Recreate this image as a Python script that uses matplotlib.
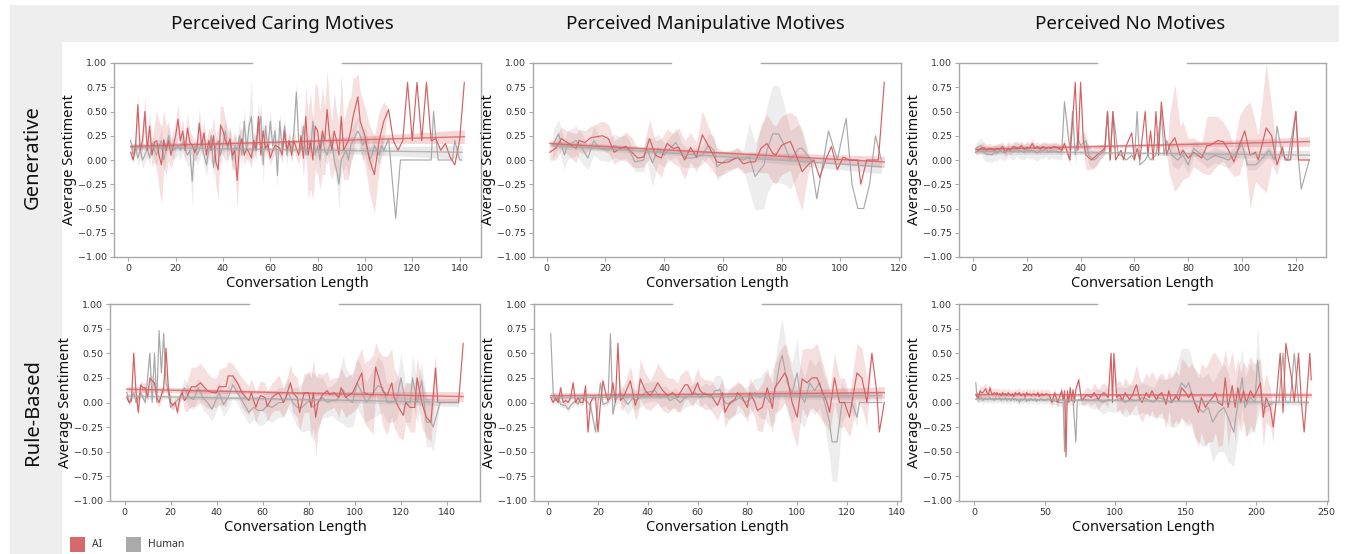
import numpy as np
import matplotlib
matplotlib.use("Agg")
import matplotlib.pyplot as plt
from matplotlib.patches import Rectangle
from matplotlib.lines import Line2D

# ------------------------------------------------------------------ data
col_titles = ["Perceived Caring Motives", "Perceived Manipulative Motives", "Perceived No Motives"]
row_titles = ["Generative", "Rule-Based"]
legend_labels = ["AI", "Human"]

# ---- Generative / Caring
gen_caring_ai_x = list(range(1, 99)) + [100, 102, 104, 106, 108, 110, 112, 114, 116, 118, 120, 122, 124, 126, 128,
                                        130, 132, 134, 136, 138, 140, 142]
gen_caring_ai_y = [0.08, 0.00, 0.12, 0.57, 0.10, 0.20, 0.50, 0.10, 0.35, 0.05,
                   0.18, 0.20, 0.05, -0.05, 0.21, 0.10, 0.20, 0.05, 0.15, 0.25,
                   0.42, 0.20, 0.30, 0.10, 0.33, 0.18, 0.15, 0.08, 0.12, 0.38,
                   0.15, 0.28, 0.05, 0.20, 0.10, 0.25, -0.02, -0.10, 0.36, 0.30,
                   0.20, 0.15, 0.22, 0.05, 0.10, -0.21, 0.15, 0.22, 0.05, 0.12,
                   0.08, 0.02, 0.20, 0.10, 0.45, 0.05, 0.30, 0.12, 0.16, 0.02,
                   0.10, 0.15, 0.14, 0.12, 0.05, 0.30, 0.10, 0.20, 0.05, 0.20,
                   0.12, 0.05, 0.25, 0.02, 0.45, 0.05, 0.20, 0.00, 0.35, 0.30,
                   0.10, 0.30, 0.20, 0.52, 0.25, 0.10, 0.30, 0.20, 0.05, 0.45,
                   0.10, 0.15, 0.20, 0.30, 0.45, 0.55, 0.65, 0.40,
                   0.25, 0.00, -0.15, 0.20, 0.40, 0.52, 0.20, 0.10, 0.20, 0.80, 0.20, 0.80, 0.20, 0.80, 0.20,
                   0.22, 0.10, 0.17, 0.03, -0.05, 0.20, 0.80]
gen_caring_ai_ci = [0.03, 0.03, 0.05, 0.10, 0.08, 0.10, 0.15, 0.10, 0.15, 0.12,
                    0.20, 0.30, 0.35, 0.40, 0.30, 0.25, 0.20, 0.15, 0.15, 0.15,
                    0.15, 0.12, 0.12, 0.12, 0.15, 0.12, 0.10, 0.10, 0.10, 0.15,
                    0.12, 0.12, 0.15, 0.12, 0.15, 0.20, 0.25, 0.30, 0.20, 0.25,
                    0.20, 0.15, 0.12, 0.15, 0.20, 0.30, 0.15, 0.12, 0.10, 0.10,
                    0.10, 0.10, 0.10, 0.10, 0.15, 0.10, 0.10, 0.08, 0.08, 0.08,
                    0.08, 0.08, 0.08, 0.08, 0.08, 0.10, 0.08, 0.08, 0.08, 0.10,
                    0.10, 0.10, 0.15, 0.20, 0.30, 0.45, 0.50, 0.40, 0.45, 0.45,
                    0.40, 0.45, 0.35, 0.40, 0.35, 0.30, 0.40, 0.30, 0.30, 0.45,
                    0.30, 0.35, 0.40, 0.35, 0.40, 0.30, 0.25, 0.30,
                    0.30, 0.35, 0.40, 0.30, 0.20, 0.00, 0.00, 0.00, 0.00, 0.00, 0.00, 0.00, 0.00, 0.00, 0.00,
                    0.00, 0.00, 0.00, 0.00, 0.00, 0.00, 0.00]
gen_caring_hu_x = list(range(1, 108)) + [108, 110, 113, 115, 128, 129, 130, 131, 137, 138, 140, 141]
gen_caring_hu_y = [0.20, 0.05, 0.15, 0.02, 0.10, 0.00, 0.05, 0.12, 0.02, 0.18,
                   0.10, 0.05, 0.15, 0.20, 0.00, 0.12, 0.25, 0.15, 0.10, 0.12,
                   0.15, 0.10, 0.18, 0.12, 0.05, 0.10, -0.22, 0.15, 0.05, 0.10,
                   0.20, 0.05, -0.05, 0.10, 0.25, -0.08, 0.15, 0.20, 0.05, 0.15,
                   0.30, 0.10, 0.20, 0.00, 0.15, 0.10, 0.25, 0.05, 0.40, 0.10,
                   0.35, 0.45, 0.10, 0.20, 0.30, 0.45,
                   -0.05, 0.35, 0.10, 0.40, 0.15, 0.30, -0.16, 0.40, 0.10, 0.35, 0.05, 0.20, 0.10, 0.30,
                   0.70, 0.20, 0.10, 0.35, 0.05,
                   0.20, 0.10, 0.40, 0.05, 0.15, 0.00, 0.25, 0.10, 0.05, 0.15, 0.20, 0.00, -0.10, -0.25, 0.00,
                   0.05, 0.10, 0.00, 0.15, 0.20, 0.25, 0.30, 0.25, 0.15, 0.20, 0.10, 0.00, 0.05, 0.15, 0.10,
                   0.05, 0.15,
                   0.10, 0.22, -0.60, 0.00, 0.00, 0.50, 0.22, 0.00, 0.00, 0.20, 0.00, 0.00]
gen_caring_hu_ci = [0.05, 0.05, 0.08, 0.08, 0.08, 0.08, 0.08, 0.08, 0.08, 0.10,
                    0.10, 0.10, 0.10, 0.12, 0.12, 0.10, 0.10, 0.10, 0.10, 0.10,
                    0.10, 0.10, 0.10, 0.10, 0.12, 0.15, 0.28, 0.12, 0.10, 0.10,
                    0.12, 0.12, 0.12, 0.10, 0.12, 0.12, 0.12, 0.12, 0.12, 0.12,
                    0.15, 0.12, 0.12, 0.12, 0.12, 0.12, 0.15, 0.12, 0.15, 0.12,
                    0.15, 0.40, 0.12, 0.12, 0.12, 0.15,
                    0.20, 0.12, 0.12, 0.12, 0.10, 0.10, 0.15, 0.10, 0.10, 0.10, 0.10, 0.10, 0.10, 0.10,
                    0.10, 0.10, 0.10, 0.10, 0.10,
                    0.10, 0.10, 0.10, 0.10, 0.10, 0.10, 0.10, 0.10, 0.10, 0.10, 0.10, 0.10, 0.15, 0.25, 0.15,
                    0.15, 0.15, 0.15, 0.15, 0.15, 0.15, 0.15, 0.15, 0.15, 0.15, 0.15, 0.12, 0.12, 0.12, 0.10,
                    0.10, 0.10,
                    0.05, 0.00, 0.00, 0.00, 0.00, 0.00, 0.00, 0.00, 0.00, 0.00, 0.00, 0.00]
gen_caring_ai_trend = [0.14, 0.24]
gen_caring_ai_trend_ci = [0.03, 0.015, 0.07]
gen_caring_hu_trend = [0.13, 0.08]
gen_caring_hu_trend_ci = [0.03, 0.015, 0.07]

# ---- Generative / Manipulative
gen_manip_ai_x = [1, 3, 5, 7, 10, 11, 13, 15, 19, 21, 23, 25, 27, 29, 31, 33, 35, 37, 39, 41,
                  43, 45, 47, 49, 51, 53, 55, 58, 60, 62, 65, 67, 69, 71, 73, 75, 77, 78, 80, 82,
                  83, 85, 87, 89, 91, 93, 95, 97, 99, 101, 103, 106, 107, 109, 111, 113, 115]
gen_manip_ai_y = [0.08, 0.12, 0.22, 0.18, 0.12, 0.20, 0.18, 0.23, 0.25, 0.22,
                  0.08, 0.12, 0.14, 0.08, 0.02, 0.03, 0.22, 0.05, 0.02, 0.17,
                  0.12, 0.13, 0.00, 0.13, 0.03, 0.26, 0.15, -0.02, -0.03, -0.02,
                  0.03, -0.04, -0.02, -0.02, 0.12, 0.17, 0.07, 0.05, 0.15, 0.18,
                  0.19, 0.05, -0.12, -0.05, 0.00, -0.18, 0.00, 0.14, -0.10, 0.03,
                  0.00, 0.00, -0.25, 0.00, 0.00, 0.00, 0.80]
gen_manip_ai_ci = [0.08, 0.12, 0.12, 0.12, 0.15, 0.12, 0.12, 0.12, 0.15, 0.15,
                   0.12, 0.12, 0.15, 0.15, 0.10, 0.10, 0.20, 0.15, 0.20, 0.15,
                   0.15, 0.20, 0.20, 0.15, 0.15, 0.25, 0.20, 0.15, 0.12, 0.10,
                   0.10, 0.10, 0.10, 0.10, 0.25, 0.30, 0.30, 0.30, 0.30, 0.30,
                   0.30, 0.40, 0.40, 0.10, 0.00, 0.00, 0.00, 0.00, 0.00, 0.00,
                   0.00, 0.00, 0.00, 0.00, 0.00, 0.00, 0.00]
gen_manip_hu_x = [2, 4, 6, 7, 10, 12, 14, 16, 18, 21, 23, 25, 27, 29, 30, 33, 34, 36, 38, 40,
                  42, 44, 46, 48, 50, 53, 55, 57, 58, 61, 62, 65, 67, 69, 71, 74, 75, 77, 79, 81,
                  83, 86, 87, 90, 92, 96, 99, 102, 104, 106, 108, 110, 112, 114]
gen_manip_hu_y = [0.15, 0.27, 0.05, 0.15, 0.20, 0.12, 0.02, 0.20, 0.12, 0.10,
                  0.15, 0.12, 0.14, 0.05, -0.02, 0.00, 0.12, -0.03, 0.12, 0.05,
                  0.12, 0.18, 0.05, 0.02, 0.02, 0.05, 0.15, 0.10, -0.07, 0.00,
                  0.00, 0.02, 0.00, 0.03, -0.17, -0.05, 0.10, 0.27, 0.27, 0.15,
                  0.00, 0.12, 0.12, 0.00, -0.40, 0.30, 0.00, 0.43, -0.25, -0.50,
                  -0.50, -0.25, 0.25, 0.00]
gen_manip_hu_ci = [0.15, 0.15, 0.15, 0.15, 0.15, 0.15, 0.12, 0.15, 0.12, 0.12,
                   0.12, 0.12, 0.12, 0.10, 0.10, 0.12, 0.12, 0.25, 0.15, 0.12,
                   0.12, 0.15, 0.12, 0.10, 0.10, 0.10, 0.12, 0.15, 0.15, 0.10,
                   0.10, 0.10, 0.10, 0.35, 0.35, 0.45, 0.45, 0.50, 0.50, 0.40,
                   0.30, 0.25, 0.20, 0.00, 0.00, 0.00, 0.00, 0.00, 0.00, 0.00,
                   0.00, 0.00, 0.00, 0.00]
gen_manip_ai_trend = [0.17, -0.02]
gen_manip_ai_trend_ci = [0.03, 0.015, 0.06]
gen_manip_hu_trend = [0.15, -0.07]
gen_manip_hu_trend_ci = [0.03, 0.015, 0.07]

# ---- Generative / No motives
gen_none_ai_x = list(range(1, 34)) + [34, 36, 38, 39, 40, 41, 42, 44, 46, 49, 50, 51, 52, 53, 55, 56, 57, 59, 60,
                                      61, 62, 64, 65, 66, 67, 68, 69, 70, 72, 73, 75, 77, 78, 80, 82, 85, 87, 88,
                                      91, 93, 95, 97, 99, 101, 103, 105, 106, 109, 111, 113, 115, 116, 118, 120,
                                      121, 125]
gen_none_ai_y = [0.08, 0.10, 0.12, 0.13, 0.10, 0.12, 0.11, 0.10, 0.12, 0.11,
                 0.14, 0.08, 0.12, 0.10, 0.14, 0.13, 0.12, 0.15, 0.11, 0.13,
                 0.12, 0.17, 0.12, 0.14, 0.11, 0.14, 0.12, 0.13, 0.12, 0.14,
                 0.13, 0.12, 0.10,
                 0.17, 0.00, 0.80, 0.10, 0.80, 0.20, 0.05, 0.00, 0.05, 0.12,
                 0.50, 0.00, 0.50, 0.00, 0.10, 0.00, 0.15, 0.28, 0.00, 0.12,
                 0.00, 0.50, 0.05, 0.30, 0.00, 0.50, 0.05, 0.60, 0.05, 0.15,
                 0.23, 0.05, 0.10, 0.02, 0.08, 0.02, 0.15, 0.15, 0.20, 0.19,
                 0.10, -0.02, 0.15, 0.30, 0.05, 0.08, 0.00, 0.33, 0.25, -0.05,
                 0.13, 0.00, 0.00, 0.50, 0.00, 0.00]
gen_none_ai_ci = [0.03, 0.04, 0.05, 0.06, 0.06, 0.05, 0.05, 0.05, 0.05, 0.05,
                  0.05, 0.05, 0.05, 0.05, 0.05, 0.05, 0.05, 0.05, 0.05, 0.05,
                  0.05, 0.05, 0.05, 0.05, 0.05, 0.05, 0.05, 0.05, 0.05, 0.05,
                  0.05, 0.05, 0.05,
                  0.05, 0.05, 0.00, 0.00, 0.00, 0.10, 0.15, 0.10, 0.10, 0.05,
                  0.00, 0.00, 0.00, 0.00, 0.00, 0.00, 0.00, 0.00, 0.00, 0.00,
                  0.00, 0.00, 0.00, 0.00, 0.00, 0.00, 0.00, 0.00, 0.00, 0.30,
                  0.55, 0.30, 0.30, 0.20, 0.15, 0.15, 0.30, 0.30, 0.25, 0.20,
                  0.20, 0.15, 0.30, 0.25, 0.55, 0.30, 0.25, 0.67, 0.30, 0.10,
                  0.05, 0.00, 0.00, 0.00, 0.00, 0.00]
gen_none_hu_x = list(range(1, 34)) + [34, 36, 37, 38, 39, 40, 42, 43, 45, 47, 49, 50, 51, 52, 54, 55, 57, 59, 60,
                                      61, 62, 64, 65, 66, 68, 70, 71, 72, 74, 76, 78, 80, 82, 85, 87, 90, 92, 95,
                                      97, 100, 102, 105, 107, 110, 112, 113, 115, 117, 120, 121, 122, 125]
gen_none_hu_y = [0.12, 0.14, 0.15, 0.08, 0.06, 0.06, 0.05, 0.08, 0.07, 0.10,
                 0.08, 0.07, 0.12, 0.09, 0.08, 0.12, 0.10, 0.09, 0.08, 0.11,
                 0.09, 0.10, 0.08, 0.07, 0.10, 0.09, 0.12, 0.08, 0.10, 0.09,
                 0.09, 0.08, 0.09,
                 0.60, 0.10, 0.50, 0.05, 0.22, 0.15, 0.20, 0.05, 0.00, 0.05,
                 0.10, 0.50, 0.00, 0.50, 0.05, 0.05, 0.00, 0.05, 0.00, 0.50,
                 -0.05, 0.00, 0.05, 0.00, 0.05, 0.50, 0.05, 0.20, 0.05, 0.00,
                 0.05, -0.05, 0.12, 0.05, 0.00, 0.05, 0.03, 0.00, 0.05, 0.16,
                 -0.05, -0.05, 0.00, 0.10, 0.00, 0.35, 0.05, 0.00, 0.50, 0.00,
                 -0.30, 0.00]
gen_none_hu_ci = [0.05, 0.06, 0.08, 0.08, 0.08, 0.08, 0.08, 0.08, 0.08, 0.08,
                  0.08, 0.08, 0.08, 0.08, 0.08, 0.08, 0.08, 0.08, 0.08, 0.08,
                  0.08, 0.08, 0.08, 0.08, 0.08, 0.08, 0.08, 0.08, 0.08, 0.08,
                  0.08, 0.08, 0.08,
                  0.00, 0.10, 0.00, 0.10, 0.10, 0.10, 0.10, 0.10, 0.10, 0.05,
                  0.05, 0.00, 0.00, 0.00, 0.00, 0.00, 0.00, 0.00, 0.00, 0.00,
                  0.00, 0.00, 0.00, 0.00, 0.00, 0.00, 0.00, 0.00, 0.10, 0.10,
                  0.08, 0.08, 0.08, 0.08, 0.08, 0.08, 0.08, 0.08, 0.08, 0.08,
                  0.05, 0.05, 0.05, 0.05, 0.05, 0.00, 0.00, 0.00, 0.00, 0.00,
                  0.00, 0.00]
gen_none_ai_trend = [0.11, 0.19]
gen_none_ai_trend_ci = [0.03, 0.015, 0.05]
gen_none_hu_trend = [0.09, 0.05]
gen_none_hu_trend_ci = [0.03, 0.015, 0.05]

# ---- Rule-Based / Caring
rule_caring_ai_x = [1, 2, 3, 4, 5, 6, 7, 8, 9, 10, 11, 12, 13, 14, 15, 17, 18, 19, 20, 21,
                    22, 23, 24, 25, 26, 27, 29, 31, 33, 36, 38, 40, 41, 44, 45, 47, 49, 51, 52, 54,
                    55, 57, 58, 59, 61, 62, 64, 65, 67, 69, 70, 72, 73, 75, 76, 78, 80, 81, 82, 83,
                    84, 86, 88, 89, 91, 93, 94, 96, 97, 99, 101, 103, 104, 106, 108, 109, 111, 112, 114, 116,
                    117, 119, 121, 122, 124, 126, 127, 129, 131, 133, 135, 136, 139, 145, 147]
rule_caring_ai_y = [0.05, 0.00, 0.02, 0.50, 0.10, -0.10, 0.18, 0.15, 0.15, 0.05,
                    0.25, 0.22, 0.20, 0.05, 0.00, 0.15, 0.55, 0.15, 0.00, -0.03,
                    0.00, -0.10, 0.05, 0.10, 0.02, 0.05, 0.16, 0.16, 0.20, 0.12,
                    0.10, 0.10, 0.16, 0.16, 0.27, 0.27, 0.20, 0.10, 0.07, 0.02,
                    0.10, -0.05, 0.02, 0.07, 0.05, -0.04, 0.05, 0.07, 0.10, 0.00,
                    0.05, 0.20, 0.10, 0.05, -0.10, 0.10, 0.10, -0.05, 0.10, -0.15,
                    0.00, 0.08, 0.12, 0.08, 0.10, 0.05, 0.15, 0.05, 0.07, 0.10,
                    0.20, 0.30, 0.10, 0.08, 0.08, 0.36, 0.20, 0.12, 0.07, 0.20,
                    0.05, -0.05, -0.13, 0.00, -0.05, -0.05, 0.25, 0.00, -0.15, -0.20,
                    0.35, 0.00, 0.00, 0.00, 0.60]
rule_caring_ai_ci = [0.03, 0.03, 0.03, 0.05, 0.05, 0.05, 0.05, 0.05, 0.05, 0.05,
                     0.05, 0.05, 0.05, 0.05, 0.05, 0.05, 0.05, 0.05, 0.05, 0.05,
                     0.05, 0.05, 0.05, 0.05, 0.10, 0.15, 0.20, 0.20, 0.20, 0.18,
                     0.15, 0.15, 0.18, 0.20, 0.15, 0.12, 0.12, 0.15, 0.15, 0.15,
                     0.15, 0.15, 0.15, 0.15, 0.15, 0.15, 0.15, 0.15, 0.18, 0.15,
                     0.15, 0.18, 0.20, 0.20, 0.18, 0.20, 0.20, 0.30, 0.35, 0.40,
                     0.30, 0.20, 0.20, 0.15, 0.15, 0.20, 0.20, 0.20, 0.20, 0.20,
                     0.25, 0.25, 0.30, 0.35, 0.40, 0.25, 0.30, 0.35, 0.40, 0.35,
                     0.30, 0.30, 0.25, 0.20, 0.25, 0.25, 0.20, 0.25, 0.20, 0.20,
                     0.15, 0.00, 0.00, 0.00, 0.00]
rule_caring_hu_x = [1, 2, 4, 5, 6, 7, 9, 11, 12, 13, 14, 15, 16, 17, 18, 19, 20, 22, 24, 26,
                    28, 30, 32, 34, 36, 38, 41, 43, 45, 47, 49, 51, 54, 56, 58, 60, 62, 64, 67, 69,
                    71, 73, 75, 77, 80, 82, 84, 86, 88, 90, 92, 95, 96, 99, 101, 103, 105, 108, 110, 112,
                    114, 116, 118, 120, 122, 124, 125, 127, 129, 131, 133, 134, 137, 145]
rule_caring_hu_y = [0.10, 0.00, 0.10, 0.00, 0.05, 0.10, 0.00, 0.50, 0.00, 0.50,
                    0.00, 0.73, 0.30, 0.70, 0.20, 0.10, -0.05, 0.00, 0.05, 0.15,
                    0.05, 0.03, 0.15, 0.05, 0.00, -0.07, 0.10, -0.02, 0.05, 0.18,
                    0.10, 0.02, -0.10, -0.05, -0.08, -0.08, -0.03, -0.05, 0.00, 0.00,
                    0.10, 0.00, -0.05, -0.05, 0.02, -0.05, 0.00, 0.05, 0.00, 0.02,
                    0.02, 0.13, 0.05, 0.00, 0.20, 0.10, 0.00, 0.10, 0.17, 0.15,
                    0.00, 0.00, 0.02, 0.25, 0.00, 0.00, 0.25, 0.00, 0.22, -0.20,
                    -0.20, -0.25, 0.00, 0.00]
rule_caring_hu_ci = [0.03, 0.03, 0.03, 0.03, 0.03, 0.03, 0.03, 0.03, 0.03, 0.03,
                     0.03, 0.03, 0.03, 0.03, 0.03, 0.03, 0.03, 0.03, 0.05, 0.10,
                     0.10, 0.10, 0.10, 0.12, 0.12, 0.12, 0.12, 0.12, 0.12, 0.12,
                     0.12, 0.12, 0.12, 0.12, 0.15, 0.15, 0.15, 0.15, 0.15, 0.15,
                     0.15, 0.15, 0.20, 0.25, 0.30, 0.35, 0.25, 0.20, 0.15, 0.15,
                     0.20, 0.35, 0.30, 0.25, 0.25, 0.25, 0.20, 0.25, 0.30, 0.25,
                     0.20, 0.20, 0.20, 0.25, 0.20, 0.20, 0.25, 0.20, 0.20, 0.25,
                     0.25, 0.25, 0.00, 0.00]
rule_caring_ai_trend = [0.135, 0.06]
rule_caring_ai_trend_ci = [0.03, 0.015, 0.05]
rule_caring_hu_trend = [0.065, 0.00]
rule_caring_hu_trend_ci = [0.025, 0.012, 0.04]

# ---- Rule-Based / Manipulative
rule_manip_ai_x = list(range(1, 32)) + [33, 35, 36, 37, 39, 41, 43, 44, 46, 48, 50, 52, 53, 55, 56, 58, 60, 61,
                                        63, 65, 66, 68, 70, 71, 73, 75, 76, 78, 80, 81, 83, 84, 86, 88, 90, 91,
                                        93, 95, 96, 98, 100, 102, 104, 106, 108, 110, 112, 113, 115, 117, 119,
                                        121, 122, 124, 126, 128, 130, 132, 133, 135]
rule_manip_ai_y = [0.05, 0.00, 0.05, 0.00, 0.15, 0.00, 0.02, 0.00, 0.05, 0.20,
                   0.00, 0.05, 0.00, 0.00, 0.17, -0.30, 0.00, 0.05, 0.05, -0.30,
                   0.00, 0.22, 0.10, 0.02, 0.05, 0.20, 0.00, 0.60, 0.02, 0.05,
                   0.10, 0.22, -0.03, 0.05, 0.24, 0.12, 0.07, 0.15, 0.20, 0.12,
                   0.07, 0.10, 0.05, 0.10, 0.18, 0.18, 0.08, 0.20, 0.12, 0.08,
                   0.08, 0.05, -0.03, 0.10, -0.10, 0.00, 0.03, 0.10, 0.05, -0.05,
                   0.10, 0.00, -0.08, -0.05, 0.15, -0.06, 0.15, 0.22, 0.30, 0.25,
                   0.00, -0.15, 0.24, 0.20, 0.25, 0.25, 0.12, 0.00, -0.10, 0.25,
                   0.00, 0.00, -0.15, 0.00, 0.30, 0.25, 0.00, 0.50, 0.10, -0.30,
                   0.00]
rule_manip_ai_ci = [0.03, 0.03, 0.03, 0.03, 0.03, 0.03, 0.03, 0.03, 0.03, 0.03,
                    0.03, 0.03, 0.03, 0.03, 0.03, 0.03, 0.03, 0.03, 0.03, 0.03,
                    0.03, 0.03, 0.03, 0.03, 0.03, 0.03, 0.05, 0.05, 0.10, 0.12,
                    0.12, 0.15, 0.15, 0.18, 0.20, 0.18, 0.15, 0.18, 0.20, 0.20,
                    0.18, 0.15, 0.15, 0.18, 0.15, 0.15, 0.12, 0.15, 0.15, 0.15,
                    0.15, 0.15, 0.15, 0.15, 0.15, 0.15, 0.15, 0.12, 0.12, 0.15,
                    0.15, 0.15, 0.20, 0.25, 0.20, 0.25, 0.25, 0.30, 0.30, 0.30,
                    0.30, 0.30, 0.30, 0.35, 0.30, 0.35, 0.30, 0.25, 0.20, 0.25,
                    0.25, 0.25, 0.20, 0.25, 0.30, 0.30, 0.25, 0.00, 0.00, 0.00,
                    0.00]
rule_manip_hu_x = [1, 2, 3, 4, 5, 7, 8, 9, 11, 12, 13, 15, 16, 17, 19, 20, 21, 22, 24, 25,
                   26, 27, 29, 30, 32, 34, 35, 37, 39, 41, 43, 45, 47, 49, 51, 53, 55, 57, 59, 61,
                   63, 65, 67, 69, 71, 73, 75, 77, 79, 81, 83, 85, 87, 89, 91, 93, 94, 96, 98, 100,
                   101, 103, 105, 107, 109, 111, 113, 114, 116, 118, 120, 122, 124, 125, 127, 134]
rule_manip_hu_y = [0.70, 0.10, 0.02, 0.05, -0.02, -0.03, -0.07, -0.03, 0.02, -0.02,
                   0.05, 0.02, 0.00, -0.03, -0.30, 0.00, 0.20, -0.02, 0.00, 0.70,
                   -0.12, 0.02, 0.10, 0.05, -0.02, 0.05, 0.02, 0.05, 0.10, 0.11,
                   0.12, 0.05, 0.07, 0.02, 0.05, 0.00, 0.05, 0.07, 0.10, 0.05,
                   0.10, 0.05, 0.12, 0.13, 0.00, -0.02, 0.02, 0.05, 0.00, 0.03,
                   0.10, 0.05, 0.08, 0.00, 0.10, 0.40, 0.48, 0.20, 0.10, 0.30,
                   0.10, 0.00, 0.20, 0.12, 0.20, 0.00, -0.20, -0.40, -0.40, 0.00,
                   0.00, 0.00, -0.15, 0.00, 0.00, 0.00]
rule_manip_hu_ci = [0.03, 0.03, 0.03, 0.03, 0.03, 0.03, 0.03, 0.03, 0.03, 0.03,
                    0.03, 0.03, 0.03, 0.03, 0.03, 0.03, 0.03, 0.03, 0.03, 0.03,
                    0.03, 0.05, 0.08, 0.10, 0.10, 0.10, 0.10, 0.10, 0.10, 0.10,
                    0.10, 0.10, 0.10, 0.10, 0.10, 0.10, 0.10, 0.10, 0.10, 0.10,
                    0.10, 0.12, 0.15, 0.15, 0.15, 0.15, 0.15, 0.15, 0.15, 0.15,
                    0.15, 0.20, 0.25, 0.25, 0.30, 0.35, 0.37, 0.30, 0.30, 0.35,
                    0.30, 0.25, 0.25, 0.25, 0.25, 0.25, 0.35, 0.40, 0.40, 0.20,
                    0.10, 0.10, 0.10, 0.00, 0.00, 0.00]
rule_manip_ai_trend = [0.07, 0.10]
rule_manip_ai_trend_ci = [0.03, 0.015, 0.06]
rule_manip_hu_trend = [0.05, 0.07]
rule_manip_hu_trend_ci = [0.025, 0.012, 0.05]

# ---- Rule-Based / No motives
rule_none_ai_x = list(range(1, 54)) + [55, 57, 59, 62, 63, 64, 65, 66, 67, 68, 69, 70, 71, 72, 74, 76, 78, 80, 83,
                                       85, 88, 90, 92, 95, 97, 98, 99, 101, 103, 105, 107, 110, 112, 115, 117,
                                       119, 122, 124, 126, 129, 131, 133, 136, 138, 140, 143, 145, 147, 150, 152,
                                       154, 157, 159, 161, 164, 166, 169, 171, 173, 176, 178, 180, 183, 185, 187,
                                       189, 191, 193, 196, 198, 200, 203, 205, 207, 210, 212, 214, 217, 219, 221,
                                       225, 227, 230, 232, 234, 236, 238, 239]
rule_none_ai_y = [0.08, 0.06, 0.05, 0.12, 0.10, 0.10, 0.12, 0.14, 0.10, 0.08,
                  0.15, 0.10, 0.08, 0.10, 0.09, 0.10, 0.08, 0.09, 0.07, 0.10,
                  0.08, 0.09, 0.07, 0.10, 0.08, 0.07, 0.09, 0.06, 0.10, 0.08,
                  0.09, 0.10, 0.07, 0.08, 0.09, 0.06, 0.10, 0.08, 0.09, 0.07,
                  0.08, 0.09, 0.08, 0.07, 0.10, 0.06, 0.08, 0.09, 0.07, 0.08,
                  0.09, 0.08, 0.08,
                  0.00, 0.10, 0.00, 0.12, 0.02, 0.12, -0.55, 0.12, 0.00, 0.15,
                  0.02, 0.13, 0.00, 0.13, 0.23, 0.02, 0.05, 0.08, 0.05, 0.10,
                  0.03, 0.08, 0.10, 0.05, 0.50, 0.00, 0.50, 0.05, 0.08, 0.02,
                  0.10, 0.03, 0.07, 0.18, 0.05, 0.00, 0.10, 0.05, 0.12, 0.03,
                  0.08, 0.10, -0.02, 0.12, 0.00, 0.07, 0.02, 0.15, 0.10, 0.05,
                  0.10, -0.03, -0.10, 0.05, -0.05, 0.00, 0.05, 0.10, 0.00, -0.03,
                  0.25, -0.05, 0.17, -0.05, 0.15, 0.00, 0.12, 0.00, 0.12, 0.05,
                  0.10, 0.20, -0.15, 0.05, -0.05, -0.25, 0.00, 0.50, -0.10, 0.60,
                  0.25, 0.00, 0.50, 0.00, -0.30, 0.10, 0.50, 0.23]
rule_none_ai_ci = [0.03, 0.05, 0.05, 0.06, 0.06, 0.06, 0.06, 0.06, 0.05, 0.05,
                   0.05, 0.05, 0.05, 0.05, 0.05, 0.05, 0.05, 0.05, 0.05, 0.05,
                   0.05, 0.05, 0.05, 0.05, 0.05, 0.05, 0.05, 0.05, 0.05, 0.05,
                   0.05, 0.05, 0.05, 0.05, 0.05, 0.05, 0.05, 0.05, 0.05, 0.05,
                   0.05, 0.05, 0.05, 0.05, 0.05, 0.05, 0.05, 0.05, 0.05, 0.05,
                   0.05, 0.05, 0.05,
                   0.05, 0.05, 0.05, 0.05, 0.05, 0.00, 0.00, 0.00, 0.00, 0.00,
                   0.00, 0.00, 0.00, 0.00, 0.05, 0.05, 0.08, 0.08, 0.08, 0.10,
                   0.10, 0.10, 0.10, 0.10, 0.00, 0.00, 0.00, 0.15, 0.15, 0.15,
                   0.15, 0.15, 0.15, 0.20, 0.20, 0.20, 0.20, 0.20, 0.20, 0.20,
                   0.20, 0.20, 0.25, 0.20, 0.25, 0.25, 0.25, 0.30, 0.30, 0.30,
                   0.30, 0.35, 0.35, 0.35, 0.40, 0.40, 0.45, 0.40, 0.45, 0.40,
                   0.30, 0.40, 0.35, 0.35, 0.30, 0.30, 0.30, 0.35, 0.35, 0.35,
                   0.30, 0.25, 0.30, 0.25, 0.20, 0.15, 0.00, 0.00, 0.00, 0.00,
                   0.00, 0.00, 0.00, 0.00, 0.00, 0.00, 0.00, 0.00]
rule_none_hu_x = list(range(1, 54)) + [56, 60, 63, 64, 65, 68, 70, 72, 73, 75, 79, 83, 87, 91, 95, 99, 103, 107,
                                       111, 115, 119, 123, 127, 131, 135, 139, 143, 147, 150, 152, 156, 159, 162,
                                       166, 169, 173, 177, 180, 184, 186, 190, 192, 196, 199, 201, 204, 206, 209,
                                       212, 216, 219, 221, 224, 227, 230, 237]
rule_none_hu_y = [0.20, 0.03, 0.05, 0.04, 0.05, 0.02, 0.04, 0.05, 0.03, 0.04,
                  0.05, 0.03, 0.04, 0.02, 0.05, 0.03, 0.04, 0.05, 0.02, 0.04,
                  0.03, 0.05, 0.02, 0.04, 0.03, 0.02, 0.05, 0.03, 0.04, 0.02,
                  0.03, 0.00, 0.04, 0.02, 0.03, 0.05, 0.01, 0.03, 0.02, 0.04,
                  0.03, 0.02, 0.04, 0.01, 0.03, 0.02, 0.04, 0.03, 0.02, 0.03,
                  0.02, 0.04, 0.03,
                  0.02, 0.00, 0.00, -0.50, 0.02, 0.02, 0.02, -0.40, 0.02, 0.03,
                  0.03, 0.02, 0.04, 0.00, 0.03, 0.02, 0.04, 0.00, 0.03, 0.02,
                  0.05, 0.03, 0.00, 0.05, 0.03, 0.00, 0.05, 0.20, 0.15, 0.20,
                  0.00, -0.05, -0.10, -0.05, -0.20, -0.10, -0.05, -0.15, -0.30, -0.10,
                  0.25, -0.05, 0.05, 0.00, 0.43, 0.00, -0.05, -0.03, 0.00, 0.00,
                  0.50, 0.00, 0.00, 0.50, 0.00, 0.00]
rule_none_hu_ci = [0.05, 0.04, 0.04, 0.04, 0.04, 0.04, 0.04, 0.04, 0.04, 0.04,
                   0.04, 0.04, 0.04, 0.04, 0.04, 0.04, 0.04, 0.04, 0.04, 0.04,
                   0.04, 0.04, 0.04, 0.04, 0.04, 0.04, 0.04, 0.04, 0.04, 0.04,
                   0.04, 0.04, 0.04, 0.04, 0.04, 0.04, 0.04, 0.04, 0.04, 0.04,
                   0.04, 0.04, 0.04, 0.04, 0.04, 0.04, 0.04, 0.04, 0.04, 0.04,
                   0.04, 0.04, 0.04,
                   0.04, 0.04, 0.04, 0.00, 0.04, 0.05, 0.05, 0.00, 0.05, 0.05,
                   0.05, 0.08, 0.10, 0.12, 0.12, 0.12, 0.12, 0.15, 0.15, 0.15,
                   0.15, 0.15, 0.15, 0.20, 0.20, 0.25, 0.30, 0.35, 0.40, 0.35,
                   0.35, 0.35, 0.35, 0.35, 0.40, 0.40, 0.45, 0.45, 0.35, 0.35,
                   0.30, 0.30, 0.35, 0.30, 0.35, 0.10, 0.05, 0.05, 0.00, 0.00,
                   0.00, 0.00, 0.00, 0.00, 0.00, 0.00]
rule_none_ai_trend = [0.08, 0.075]
rule_none_ai_trend_ci = [0.02, 0.01, 0.03]
rule_none_hu_trend = [0.035, 0.00]
rule_none_hu_trend_ci = [0.02, 0.01, 0.03]

# ------------------------------------------------------------------ style
AI_COLOR = "#d65f62"
AI_PATCH = "#d46a6a"
HU_COLOR = "#a8a8a8"
HU_PATCH = "#aaaaaa"
BG_GRAY = "#eeeeee"
SPINE = "#a8a8a8"
LABEL_FONT = ["Noto Sans", "DejaVu Sans"]

W, H = 1347, 554
fig = plt.figure(figsize=(W / 100, H / 100), dpi=100)
fig.patch.set_facecolor("white")

# background: gray L-shaped band (top header strip + left row-label column)
fig.add_artist(Rectangle((10 / W, 0), (1339 - 10) / W, (554 - 5) / H, transform=fig.transFigure,
                         facecolor=BG_GRAY, edgecolor="none", zorder=-20))
fig.add_artist(Rectangle((62 / W, 0), (1339 - 62) / W, (554 - 42) / H, transform=fig.transFigure,
                         facecolor="white", edgecolor="none", zorder=-19))


def px_axes(l, t, r, b):
    return fig.add_axes([l / W, 1 - b / H, (r - l) / W, (b - t) / H])


panels = [
    [(gen_caring_ai_x, gen_caring_ai_y, gen_caring_ai_ci, gen_caring_ai_trend, gen_caring_ai_trend_ci,
      gen_caring_hu_x, gen_caring_hu_y, gen_caring_hu_ci, gen_caring_hu_trend, gen_caring_hu_trend_ci),
     (gen_manip_ai_x, gen_manip_ai_y, gen_manip_ai_ci, gen_manip_ai_trend, gen_manip_ai_trend_ci,
      gen_manip_hu_x, gen_manip_hu_y, gen_manip_hu_ci, gen_manip_hu_trend, gen_manip_hu_trend_ci),
     (gen_none_ai_x, gen_none_ai_y, gen_none_ai_ci, gen_none_ai_trend, gen_none_ai_trend_ci,
      gen_none_hu_x, gen_none_hu_y, gen_none_hu_ci, gen_none_hu_trend, gen_none_hu_trend_ci)],
    [(rule_caring_ai_x, rule_caring_ai_y, rule_caring_ai_ci, rule_caring_ai_trend, rule_caring_ai_trend_ci,
      rule_caring_hu_x, rule_caring_hu_y, rule_caring_hu_ci, rule_caring_hu_trend, rule_caring_hu_trend_ci),
     (rule_manip_ai_x, rule_manip_ai_y, rule_manip_ai_ci, rule_manip_ai_trend, rule_manip_ai_trend_ci,
      rule_manip_hu_x, rule_manip_hu_y, rule_manip_hu_ci, rule_manip_hu_trend, rule_manip_hu_trend_ci),
     (rule_none_ai_x, rule_none_ai_y, rule_none_ai_ci, rule_none_ai_trend, rule_none_ai_trend_ci,
      rule_none_hu_x, rule_none_hu_y, rule_none_hu_ci, rule_none_hu_trend, rule_none_hu_trend_ci)],
]

# pixel boxes (left, top, right, bottom) of the six plotting areas
boxes = [[(114, 63, 481, 257), (533, 63, 901, 257), (959, 63, 1326, 257)],
         [(110, 304, 480, 501), (534, 304, 901, 501), (959, 304, 1328, 501)]]


def draw_series(ax, x, y, ci, color, lw=0.85):
    n = min(len(x), len(y), len(ci))
    x = np.asarray(x[:n], float)
    y = np.asarray(y[:n], float)
    ci = np.asarray(ci[:n], float)
    ax.fill_between(x, y - ci, y + ci, color=color, alpha=0.2, linewidth=0, zorder=1)
    ax.plot(x, y, color=color, lw=lw, zorder=3)


def draw_trend(ax, x, trend, trend_ci, color):
    x0, x1 = float(min(x)), float(max(x))
    xs = np.array([x0, (x0 + x1) / 2, x1])
    ys = trend[0] + (trend[1] - trend[0]) * (xs - x0) / (x1 - x0)
    ci = np.asarray(trend_ci, float)
    ax.fill_between(xs, ys - ci, ys + ci, color=color, alpha=0.25, linewidth=0, zorder=2)
    ax.plot(xs, ys, color=color, lw=1.0, alpha=0.8, zorder=4)


for r in range(2):
    for c in range(3):
        (ax_x, ax_y, ax_ci, ax_tr, ax_trci, hu_x, hu_y, hu_ci, hu_tr, hu_trci) = panels[r][c]
        l, t, rr, b = boxes[r][c]
        ax = px_axes(l, t, rr, b)
        draw_series(ax, hu_x, hu_y, hu_ci, HU_COLOR)
        draw_series(ax, ax_x, ax_y, ax_ci, AI_COLOR)
        draw_trend(ax, hu_x, hu_tr, hu_trci, HU_COLOR)
        draw_trend(ax, ax_x, ax_tr, ax_trci, AI_COLOR)
        ax.set_ylim(-1, 1)
        yt = np.arange(-1, 1.01, 0.25)
        ax.set_yticks(yt)
        ax.set_yticklabels([("%.2f" % v).replace("-", "\u2212") for v in yt])
        ax.margins(x=0.05)
        ax.tick_params(labelsize=6.8, colors="#333333", length=3, width=0.8, pad=2)
        ax.tick_params(axis="both", color=SPINE)
        for name in ["left", "right", "bottom"]:
            ax.spines[name].set_color(SPINE)
            ax.spines[name].set_linewidth(1.0)
        ax.spines["top"].set_visible(False)
        for seg in [(0.0, 0.375), (0.62, 1.0)]:
            ax.add_line(Line2D(seg, [1, 1], transform=ax.transAxes, color=SPINE, lw=1.0, clip_on=False))
        ax.set_xlabel("Conversation Length", fontsize=10.5, family=LABEL_FONT, labelpad=2, color="#111111")
        ax.set_ylabel("Average Sentiment", fontsize=10.5, family=LABEL_FONT, color="#111111")
        ax.yaxis.set_label_coords(-37 / (rr - l), 0.5)

# column headers
for cx, title in zip([282, 705, 1130], col_titles):
    fig.text(cx / W, 1 - 24 / H, title, ha="center", va="center", fontsize=13.5, family=LABEL_FONT,
             color="#111111")
# row headers
for cy, title in zip([157, 412], row_titles):
    fig.text(33 / W, 1 - cy / H, title, ha="center", va="center", rotation=90, fontsize=14.5,
             family=LABEL_FONT, color="#111111")

# legend
for lx, col, lab in zip([70, 126], [AI_PATCH, HU_PATCH], legend_labels):
    fig.add_artist(Rectangle((lx / W, 1 - 552 / H), 15 / W, 15 / H, transform=fig.transFigure,
                             facecolor=col, edgecolor="none"))
    fig.text((lx + 22) / W, 1 - 544.5 / H, lab, ha="left", va="center", fontsize=7.5,
             family=LABEL_FONT, color="#333333")

fig.savefig("out.png", dpi=100, facecolor=fig.get_facecolor())
